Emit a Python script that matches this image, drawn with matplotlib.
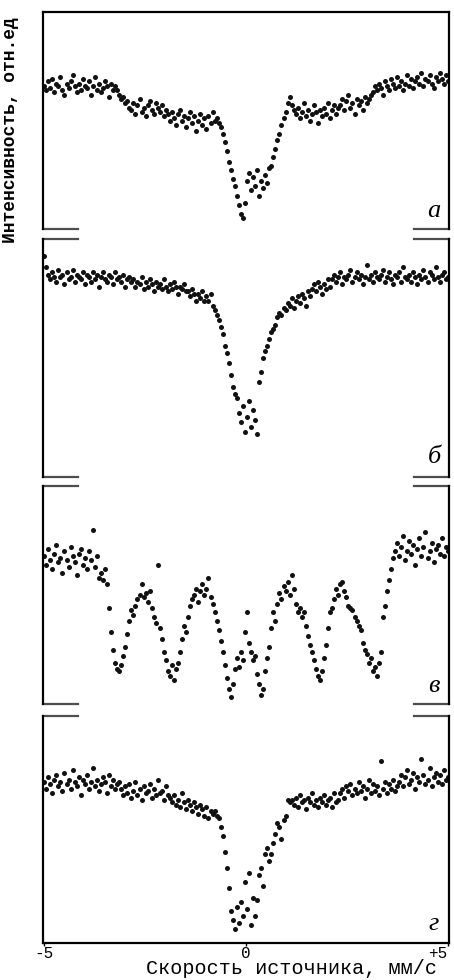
import numpy as np
import matplotlib
matplotlib.use("Agg")
import matplotlib.pyplot as plt

# Mossbauer spectra, 200 channels from -5 to +5 mm/s, intensity in rel. units
v_min, v_max = -5.0, 5.0

spec_a = [
    66, 64, 68, 65, 69, 63, 67, 66, 70, 64, 62, 67, 65, 68, 71, 66, 63, 67, 64, 69,
    66, 65, 68, 62, 66, 70, 64, 67, 63, 65, 68, 66, 61, 67, 64, 66,
    64, 62, 60, 61, 58, 59, 56,
    55, 58, 53, 57, 60, 54, 56, 52, 57, 59, 55, 53, 58, 56, 54, 57, 52, 55,
    53, 50, 54, 51, 48, 53, 55, 50, 52, 47, 51, 54, 49, 52, 45, 50, 53, 48, 51, 46,
    52, 49, 54, 50, 51,
    49, 47, 44, 40, 36, 31, 27, 23, 20, 15, 11, 7, 5, 12, 22, 26, 18, 24, 20, 27,
    15, 22, 19, 25, 21, 28, 29, 33, 37, 41, 44, 48, 51, 54, 58,
    61, 57, 55, 53, 56, 51, 54, 58, 52, 55, 50, 53, 57, 54, 49, 55, 52, 56, 53, 58,
    51, 55, 57, 53, 56,
    57, 60, 55, 59, 62, 56, 58, 53, 60, 57, 59, 55, 61, 58, 60, 62,
    63, 66, 64, 67, 65, 62, 68, 66, 64, 69, 67, 65, 70, 66, 68, 64, 67, 71, 66, 69,
    65, 68, 70, 67, 72, 66, 69, 68, 71, 67, 65, 70, 68, 72, 69, 67, 71, 68,
]

spec_b = [
    93, 88,
    85, 83, 86, 84, 82, 87, 84, 85, 81, 86, 83, 84, 87, 82, 85, 84, 83, 86, 81, 85,
    84, 82, 86, 83, 85, 80, 84, 86, 83, 82, 85, 84, 81, 86, 83, 84, 82, 85, 80, 83,
    84, 82,
    83, 80, 82, 81, 84, 79, 82, 80, 83, 81, 78, 82, 80, 81, 79, 83, 80, 78, 81, 79,
    82, 80, 77, 80, 79, 81, 78,
    78, 76, 79, 77, 74, 77, 75, 78, 74,
    76, 74, 77, 72, 70, 68, 66, 63, 60, 55, 52, 48, 43, 38, 35, 33, 27, 23, 30, 19,
    25, 32, 21, 28, 24, 18, 40, 44, 50, 53, 55, 58, 61, 62, 64, 67, 69, 68, 71, 70,
    73,
    72, 75, 71, 74, 76, 73, 77, 75, 72, 78, 76,
    79, 81, 78, 82, 80, 77, 81, 79, 83, 80,
    83, 85, 82, 84, 86, 81, 84, 83, 85, 87, 82, 84, 86, 83, 85, 81, 84, 89, 83, 85,
    82, 86, 84, 83, 85, 87, 82, 84, 86, 83, 81, 85, 84, 86, 82, 88, 84, 83, 85, 82,
    86, 84, 81, 85, 83, 87, 84, 82, 86, 85, 83, 88, 84, 82, 85, 86, 83, 84,
]

spec_c = [
    68, 64, 71, 66, 62, 69, 73, 65, 67, 60, 70, 66, 63, 72, 68, 65, 59, 69, 71, 64,
    67, 62, 70, 66, 80, 63, 68, 58,
    60, 57, 62, 55,
    44, 33, 25, 19, 16, 15, 18, 22, 26, 32, 38, 43, 41, 45, 48, 50, 55, 49, 51, 47,
    52, 44, 40, 37, 64, 35, 30, 24, 20, 15, 13, 18, 11, 16, 19, 24, 30, 36, 33, 40,
    45, 48, 50, 53, 47, 52, 55, 50, 53, 58, 49, 46, 42, 38, 34, 29, 24, 18, 12, 7,
    3, 9, 16, 21, 17, 24, 20, 33, 42, 28, 24, 20, 22, 14, 9, 4, 7, 15, 21, 26,
    35, 42, 38, 46, 51, 48, 54, 52, 56, 50, 59, 53, 46, 42, 44, 40, 42, 36, 31, 27,
    24, 20, 16, 13, 11, 15, 21, 27, 35, 42, 44, 48, 53, 50, 55, 56, 52, 49, 45, 44,
    43, 40, 38, 36, 34, 28, 25, 23, 19, 21, 15, 17, 13, 19, 24, 40, 45, 52, 57, 62,
    67, 70,
    74, 68, 72, 77, 66, 70, 75, 69, 73, 64, 71, 76, 68, 72, 79, 67, 70, 74, 65, 71,
    73, 69, 76, 68, 72, 70,
]

spec_d = [
    71, 68, 73, 70, 66, 72, 74, 69, 71, 67, 75, 70, 72, 68, 76, 71, 69, 73, 65, 72,
    70, 74, 68, 71, 77, 69, 72, 67, 70, 73, 71, 66, 74, 69, 72, 68, 70, 71,
    68, 65, 69, 66, 70, 64, 67, 71, 65, 68, 63, 69, 66, 67, 70, 64, 68, 65, 72, 66,
    67, 63, 69, 65,
    64, 62, 65, 61, 63, 60, 66, 62, 59, 63, 61, 58, 62, 60, 57, 61, 59, 56, 60, 55,
    58, 57,
    58, 56, 55, 51, 47, 40, 33, 24, 14, 10, 6, 16, 9, 18, 12, 27, 15, 31, 8, 20,
    12, 19, 30, 33, 25, 39, 42, 36, 39, 44, 48, 53, 51, 46, 54, 56, 63, 62,
    63, 61, 64, 60, 65, 62, 63, 59, 64, 62, 66, 61, 63, 60, 64, 62, 65, 61, 63, 64,
    60, 66, 62, 63,
    66, 68, 64, 69, 67, 70, 65, 68, 66, 71, 67, 69, 64, 68, 72, 66, 70, 67, 69, 65,
    80, 68, 71, 66, 70, 68, 72, 67, 69,
    71, 74, 69, 73, 76, 70, 72, 75, 68, 73, 71, 81, 74, 70, 72, 77, 69, 73, 75, 71,
    74, 70, 76, 72, 73,
]

spectra = [spec_a, spec_b, spec_c, spec_d]
letters = ["а", "б", "в", "г"]
tick_vals = [-5, 0, 5]
tick_text = ["-5", "0", "+5"]

# panel boxes [left, bottom, width, height] in figure fraction
boxes = [
    [0.0947, 0.7663, 0.8943, 0.2214],
    [0.0947, 0.5133, 0.8943, 0.2429],
    [0.0947, 0.2816, 0.8943, 0.2224],
    [0.0947, 0.0378, 0.8943, 0.2316],
]

mono = "Liberation Mono"
stub = 0.086  # length of the break marks, axes fraction

fig = plt.figure(figsize=(4.54, 9.8), dpi=100)

for k, (spec, box) in enumerate(zip(spectra, boxes)):
    ax = fig.add_axes(box)
    vel = np.linspace(v_min, v_max, len(spec))
    ax.scatter(vel, spec, s=13, c="#111111", marker="o", linewidths=0)
    ax.set_xlim(v_min - 0.03, v_max + 0.03)
    ax.set_ylim(0, 100)
    ax.set_yticks([])
    for side in ["left", "right", "top", "bottom"]:
        ax.spines[side].set_linewidth(1.6)
    ax.spines["top"].set_visible(k == 0)
    ax.spines["bottom"].set_visible(k == 3)

    # short "=" break marks between panels
    kw = dict(transform=ax.transAxes, clip_on=False, color="0.3", lw=1.6)
    if k > 0:
        ax.plot([0, stub], [1, 1], **kw)
        ax.plot([1 - stub, 1], [1, 1], **kw)
    if k < 3:
        ax.plot([0, stub], [0, 0], **kw)
        ax.plot([1 - stub, 1], [0, 0], **kw)

    ax.text(0.963, 0.085, letters[k], transform=ax.transAxes, ha="center",
            va="center", family="Liberation Serif", style="italic", fontsize=19)

    if k == 3:
        ax.set_xticks(tick_vals)
        labels = ax.set_xticklabels(tick_text, family=mono, fontsize=11.5)
        labels[-1].set_horizontalalignment("right")
        ax.tick_params(axis="x", direction="out", length=2, width=1, pad=0)
    else:
        ax.set_xticks([])

fig.text(292 / 454, 2 / 980, "Скорость источника, мм/с", family=mono,
         fontsize=14.5, ha="center", va="bottom")
fig.text(11 / 454, 1 - 130 / 980, "Интенсивность, отн.ед", family=mono,
         fontweight="bold", fontsize=13, rotation=90, ha="center", va="center")

fig.savefig("out.png", dpi=100)
